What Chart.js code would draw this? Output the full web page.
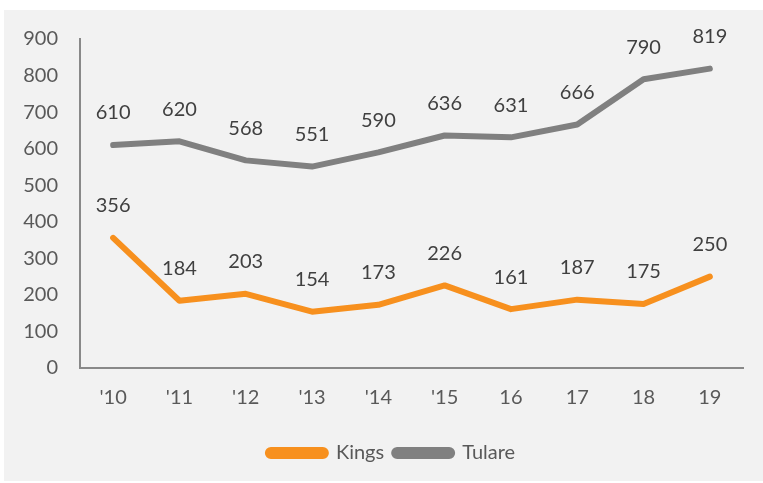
<!DOCTYPE html>
<html>
<head>
<meta charset="utf-8">
<script src="https://cdn.jsdelivr.net/npm/chart.js@4/dist/chart.umd.min.js"></script>
<style>
  html, body { margin: 0; padding: 0; background: #ffffff; }
  #wrap { width: 763px; height: 483px; }
</style>
</head>
<body>
<div id="wrap"><canvas id="chart" width="763" height="483"></canvas></div>
<script>
const years = ["'10", "'11", "'12", "'13", "'14", "'15", "16", "17", "18", "19"];
const kings = [356, 184, 203, 154, 173, 226, 161, 187, 175, 250];
const tulare = [610, 620, 568, 551, 590, 636, 631, 666, 790, 819];

const textColor = "#595959";
const fontFamily = "Lato, 'Open Sans', sans-serif";

const background = {
    id: "background",
    beforeDraw(chart) {
        const ctx = chart.ctx;
        ctx.save();
        ctx.fillStyle = "#ffffff";
        ctx.fillRect(0, 0, chart.width, chart.height);
        ctx.fillStyle = "#f2f2f2";
        ctx.fillRect(4, 10, chart.width - 4, chart.height - 12);
        ctx.restore();
    }
};

const pointLabels = {
    id: "pointLabels",
    afterDatasetsDraw(chart) {
        const ctx = chart.ctx;
        ctx.save();
        ctx.font = "20px " + fontFamily;
        ctx.fillStyle = "#404040";
        ctx.textAlign = "center";
        ctx.textBaseline = "middle";
        chart.data.datasets.forEach((ds, i) => {
            chart.getDatasetMeta(i).data.forEach((pt, j) => {
                ctx.fillText(ds.data[j], pt.x, pt.y - 32);
            });
        });
        ctx.restore();
    }
};

new Chart(document.getElementById("chart"), {
    type: "line",
    data: {
        labels: years,
        datasets: [
            {
                label: "Kings",
                data: kings,
                borderColor: "#f7901e",
                backgroundColor: "#f7901e",
                borderWidth: 6,
                borderCapStyle: "round",
                borderJoinStyle: "round",
                pointRadius: 0,
                tension: 0
            },
            {
                label: "Tulare",
                data: tulare,
                borderColor: "#808080",
                backgroundColor: "#808080",
                borderWidth: 6,
                borderCapStyle: "round",
                borderJoinStyle: "round",
                pointRadius: 0,
                tension: 0
            }
        ]
    },
    options: {
        responsive: false,
        animation: false,
        layout: { padding: { left: 20, right: 0, top: 39, bottom: 10 } },
        plugins: {
            tooltip: { enabled: false },
            legend: {
                position: "bottom",
                labels: {
                    boxWidth: 58,
                    boxHeight: 6,
                    useBorderRadius: true,
                    borderRadius: 3,
                    padding: 10,
                    color: textColor,
                    font: { family: fontFamily, size: 20 }
                }
            }
        },
        scales: {
            x: {
                offset: true,
                grid: { display: false, drawTicks: false },
                border: { display: true, color: "#898989", width: 2 },
                ticks: {
                    color: textColor,
                    padding: 18,
                    font: { family: fontFamily, size: 20 }
                },
                afterFit: s => { s.height = 65; }
            },
            y: {
                min: 0,
                max: 900,
                grid: { display: false, drawTicks: false },
                border: { display: true, color: "#898989", width: 2 },
                ticks: {
                    stepSize: 100,
                    color: textColor,
                    padding: 22,
                    font: { family: fontFamily, size: 20 }
                },
                afterFit: s => { s.width = 60; }
            },
            spacer: {
                position: "right",
                min: 0,
                max: 900,
                grid: { display: false, drawTicks: false },
                border: { display: false },
                ticks: { display: false },
                afterFit: s => { s.width = 20; }
            }
        }
    },
    plugins: [background, pointLabels]
});
</script>
</body>
</html>
